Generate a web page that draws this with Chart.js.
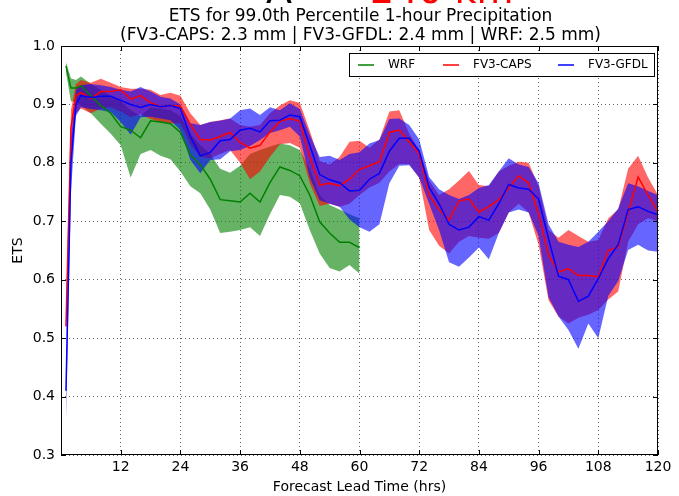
<!DOCTYPE html>
<html>
<head>
<meta charset="utf-8">
<title>ETS 99.0th Percentile 1-hour Precipitation</title>
<script src="https://cdn.jsdelivr.net/npm/chart.js@4.4.1/dist/chart.umd.min.js"></script>
<style>
  html, body { margin: 0; padding: 0; background: #fff; }
  canvas { display: block; }
</style>
</head>
<body>
<canvas id="etsChart" width="679" height="496"></canvas>
<script>
// forecast hours (FV3 runs go to 120 h, WRF stops at 60 h)
const hours = [1, 2, 3, 4, 6, 8, 10, 12, 14, 16, 18, 20, 22, 24, 26, 28, 30, 32, 34, 36, 38, 40,
  42, 44, 46, 48, 50, 52, 54, 56, 58, 60, 62, 64, 66, 68, 70, 72, 74, 76, 78, 80, 82, 84,
  86, 88, 90, 92, 94, 96, 98, 100, 102, 104, 106, 108, 110, 112, 114, 116, 118, 120];
const wrfHours = [1, 2, 3, 4, 6, 8, 10, 12, 14, 16, 18, 20, 22, 24, 26, 28, 30, 32, 34, 36, 38, 40,
  42, 44, 46, 48, 50, 52, 54, 56, 58, 60];

const capsMean = [0.52, 0.86, 0.915, 0.92, 0.91, 0.922, 0.922, 0.925, 0.909, 0.915, 0.903, 0.896, 0.898, 0.897,
  0.866, 0.84, 0.839, 0.845, 0.852, 0.835, 0.825, 0.83, 0.853, 0.871, 0.876, 0.871, 0.81, 0.762, 0.765, 0.761,
  0.772, 0.789, 0.795, 0.802, 0.852, 0.856, 0.836, 0.815, 0.745, 0.72, 0.702, 0.735, 0.738, 0.716, 0.725,
  0.737, 0.757, 0.778, 0.765, 0.713, 0.642, 0.613, 0.619, 0.607, 0.607, 0.605, 0.65, 0.656, 0.715, 0.776,
  0.745, 0.716];
const capsLow = [0.50, 0.82, 0.885, 0.893, 0.885, 0.893, 0.895, 0.888, 0.878, 0.883, 0.875, 0.87, 0.868, 0.868,
  0.832, 0.81, 0.808, 0.815, 0.822, 0.8, 0.772, 0.785, 0.81, 0.832, 0.834, 0.826, 0.765, 0.726, 0.73, 0.725,
  0.73, 0.745, 0.758, 0.766, 0.785, 0.798, 0.798, 0.774, 0.685, 0.658, 0.645, 0.665, 0.675, 0.672, 0.67,
  0.68, 0.715, 0.73, 0.715, 0.66, 0.565, 0.537, 0.525, 0.535, 0.54, 0.548, 0.566, 0.58, 0.665, 0.695,
  0.705, 0.70];
const capsHigh = [0.55, 0.89, 0.935, 0.942, 0.937, 0.944, 0.937, 0.93, 0.927, 0.927, 0.925, 0.916, 0.92, 0.915,
  0.885, 0.865, 0.87, 0.873, 0.876, 0.865, 0.862, 0.865, 0.885, 0.898, 0.907, 0.903, 0.855, 0.803, 0.797, 0.81,
  0.836, 0.838, 0.826, 0.84, 0.888, 0.89, 0.85, 0.822, 0.77, 0.745, 0.755, 0.77, 0.786, 0.762, 0.76,
  0.785, 0.795, 0.802, 0.8, 0.76, 0.685, 0.672, 0.685, 0.675, 0.665, 0.668, 0.705, 0.72, 0.79, 0.812,
  0.775, 0.745];

const gfdlMean = [0.41, 0.80, 0.90, 0.915, 0.912, 0.914, 0.914, 0.907, 0.90, 0.895, 0.90, 0.896, 0.898, 0.893,
  0.845, 0.812, 0.818, 0.838, 0.84, 0.856, 0.859, 0.853, 0.872, 0.873, 0.882, 0.879, 0.83, 0.78, 0.771, 0.766,
  0.752, 0.753, 0.772, 0.782, 0.82, 0.842, 0.842, 0.82, 0.758, 0.73, 0.695, 0.685, 0.69, 0.708, 0.702,
  0.73, 0.763, 0.757, 0.755, 0.738, 0.67, 0.606, 0.60, 0.563, 0.572, 0.602, 0.636, 0.66, 0.72, 0.725,
  0.717, 0.711];
const gfdlLow = [0.36, 0.75, 0.88, 0.895, 0.892, 0.89, 0.887, 0.87, 0.848, 0.878, 0.879, 0.876, 0.873, 0.856,
  0.805, 0.782, 0.805, 0.806, 0.82, 0.822, 0.829, 0.839, 0.851, 0.856, 0.862, 0.845, 0.775, 0.736, 0.73, 0.725,
  0.703, 0.69, 0.682, 0.695, 0.765, 0.795, 0.796, 0.775, 0.73, 0.685, 0.63, 0.622, 0.638, 0.655, 0.635,
  0.68, 0.715, 0.72, 0.715, 0.675, 0.57, 0.537, 0.514, 0.482, 0.525, 0.50, 0.572, 0.598, 0.651, 0.66,
  0.65, 0.648];
const gfdlHigh = [0.44, 0.84, 0.925, 0.933, 0.935, 0.933, 0.93, 0.925, 0.922, 0.93, 0.922, 0.913, 0.91, 0.90,
  0.868, 0.865, 0.87, 0.872, 0.876, 0.89, 0.893, 0.882, 0.895, 0.89, 0.902, 0.892, 0.848, 0.81, 0.812, 0.805,
  0.815, 0.818, 0.833, 0.839, 0.875, 0.876, 0.865, 0.84, 0.776, 0.755, 0.745, 0.738, 0.745, 0.757, 0.762,
  0.785, 0.808, 0.797, 0.793, 0.765, 0.695, 0.665, 0.66, 0.656, 0.665, 0.682, 0.70, 0.722, 0.765, 0.76,
  0.752, 0.745];

const wrfMean = [0.966, 0.928, 0.928, 0.932, 0.915, 0.898, 0.885, 0.862, 0.856, 0.843, 0.872, 0.87, 0.867, 0.852,
  0.814, 0.797, 0.772, 0.737, 0.735, 0.733, 0.748, 0.733, 0.766, 0.793, 0.787, 0.778, 0.745, 0.699, 0.68,
  0.664, 0.664, 0.655];
const wrfLow = [0.955, 0.905, 0.905, 0.898, 0.885, 0.867, 0.85, 0.83, 0.775, 0.815, 0.822, 0.812, 0.806, 0.785,
  0.76, 0.748, 0.72, 0.68, 0.682, 0.685, 0.69, 0.675, 0.712, 0.745, 0.742, 0.731, 0.685, 0.645, 0.62,
  0.614, 0.625, 0.61];
const wrfHigh = [0.972, 0.945, 0.942, 0.948, 0.935, 0.925, 0.915, 0.905, 0.89, 0.88, 0.895, 0.893, 0.89, 0.88,
  0.85, 0.83, 0.815, 0.79, 0.783, 0.795, 0.815, 0.822, 0.828, 0.833, 0.83, 0.822, 0.79, 0.745, 0.728,
  0.72, 0.712, 0.705];

const xTicks = [12, 24, 36, 48, 60, 72, 84, 96, 108, 120];
const yTicks = [0.3, 0.4, 0.5, 0.6, 0.7, 0.8, 0.9, 1.0];

const titleLines = ['ETS for 99.0th Percentile 1-hour Precipitation',
  '(FV3-CAPS: 2.3 mm | FV3-GFDL: 2.4 mm | WRF: 2.5 mm)'];
const legendItems = [
  { label: 'WRF', color: '#008000' },
  { label: 'FV3-CAPS', color: '#ff0000' },
  { label: 'FV3-GFDL', color: '#0000ff' }
];

const FONT = 'DejaVu Sans';
Chart.defaults.font.family = FONT;
Chart.defaults.color = '#000';

const pts = (xs, ys) => xs.map((x, i) => ({ x: x, y: ys[i] }));

// lower edge of a shaded band: invisible, only used as fill target
const bandEdge = (data, order) => ({
  data: data, order: order, fill: false, borderWidth: 0, borderColor: 'transparent',
  pointRadius: 0, pointHoverRadius: 0, tension: 0
});
const bandTop = (data, color, order) => ({
  data: data, order: order, fill: '-1', backgroundColor: color, borderWidth: 0,
  borderColor: 'transparent', pointRadius: 0, pointHoverRadius: 0, tension: 0
});
const meanLine = (label, data, color, order) => ({
  label: label, data: data, order: order, fill: false, borderColor: color, borderWidth: 1.5,
  pointRadius: 0, pointHoverRadius: 0, tension: 0
});

// titles, cut-off header, frame, inward ticks and the boxed legend
const decorations = {
  id: 'decorations',
  afterDraw(chart) {
    const { ctx, chartArea: a, scales: { x, y } } = chart;
    ctx.save();

    ctx.textBaseline = 'alphabetic';
    ctx.font = '38px "' + FONT + '"';
    ctx.textAlign = 'left';
    ctx.fillStyle = '#000';
    ctx.fillText('A', 266, 3);
    ctx.fillStyle = '#ff0000';
    ctx.fillText('240 km', 370, 3);

    ctx.fillStyle = '#000';
    ctx.font = '17px "' + FONT + '"';
    ctx.textAlign = 'center';
    const cx = (a.left + a.right) / 2 + 1;
    ctx.fillText(titleLines[0], cx, 21);
    ctx.fillText(titleLines[1], cx, 40);

    ctx.strokeStyle = '#000';
    ctx.lineWidth = 1;
    ctx.beginPath();
    xTicks.forEach(v => {
      const px = Math.round(x.getPixelForValue(v)) + 0.5;
      ctx.moveTo(px, a.bottom); ctx.lineTo(px, a.bottom - 5);
      ctx.moveTo(px, a.top); ctx.lineTo(px, a.top + 5);
    });
    yTicks.forEach(v => {
      const py = Math.round(y.getPixelForValue(v)) + 0.5;
      ctx.moveTo(a.left, py); ctx.lineTo(a.left + 5, py);
      ctx.moveTo(a.right, py); ctx.lineTo(a.right - 5, py);
    });
    ctx.stroke();
    ctx.strokeRect(Math.round(a.left) + 0.5, Math.round(a.top) + 0.5,
      Math.round(a.right - a.left) - 1, Math.round(a.bottom - a.top) - 1);

    // legend box in the upper right corner of the plot
    const bw = 305, bh = 23;
    const bx = Math.round(a.right) - 4 - bw, by = Math.round(a.top) + 7;
    ctx.fillStyle = '#fff';
    ctx.fillRect(bx, by, bw, bh);
    ctx.strokeRect(bx + 0.5, by + 0.5, bw, bh);
    const starts = [9, 94, 209];
    ctx.font = '12px "' + FONT + '"';
    ctx.textAlign = 'left';
    ctx.textBaseline = 'middle';
    legendItems.forEach((item, i) => {
      const lx = bx + starts[i], ly = by + bh / 2 + 0.5;
      ctx.strokeStyle = item.color;
      ctx.lineWidth = 1.5;
      ctx.beginPath();
      ctx.moveTo(lx, ly); ctx.lineTo(lx + 16, ly);
      ctx.stroke();
      ctx.fillStyle = '#000';
      ctx.fillText(item.label, lx + 30, ly);
    });
    ctx.restore();
  }
};

new Chart(document.getElementById('etsChart'), {
  type: 'line',
  data: {
    datasets: [
      bandEdge(pts(wrfHours, wrfLow), 9),
      bandTop(pts(wrfHours, wrfHigh), 'rgba(0,128,0,0.6)', 8),
      bandEdge(pts(hours, capsLow), 7),
      bandTop(pts(hours, capsHigh), 'rgba(255,0,0,0.6)', 6),
      bandEdge(pts(hours, gfdlLow), 5),
      bandTop(pts(hours, gfdlHigh), 'rgba(0,0,255,0.6)', 4),
      meanLine('WRF', pts(wrfHours, wrfMean), '#008000', 3),
      meanLine('FV3-CAPS', pts(hours, capsMean), '#ff0000', 2),
      meanLine('FV3-GFDL', pts(hours, gfdlMean), '#0000ff', 1)
    ]
  },
  options: {
    responsive: false,
    animation: false,
    devicePixelRatio: 1,
    layout: { padding: { top: 46, right: 21, left: 0, bottom: 0 } },
    plugins: { legend: { display: false }, tooltip: { enabled: false }, title: { display: false } },
    scales: {
      x: {
        type: 'linear',
        min: 0,
        max: 120,
        z: 1,
        afterFit: s => { s.height = 41; },
        grid: { color: 'rgba(0,0,0,0.6)', lineWidth: 1, drawTicks: false },
        border: { display: false, dash: [1, 3] },
        ticks: {
          stepSize: 12,
          padding: 4,
          maxRotation: 0,
          autoSkip: false,
          font: { size: 14 },
          callback: v => (v === 0 ? '' : v)
        },
        title: { display: true, text: 'Forecast Lead Time (hrs)', font: { size: 14 }, padding: { top: 0, bottom: 0 } }
      },
      y: {
        min: 0.3,
        max: 1.0,
        z: 1,
        afterFit: s => { s.width = 61; },
        grid: { color: 'rgba(0,0,0,0.6)', lineWidth: 1, drawTicks: false },
        border: { display: false, dash: [1, 3] },
        ticks: {
          stepSize: 0.1,
          padding: 6,
          font: { size: 14 },
          callback: v => Number(v).toFixed(1)
        },
        title: { display: true, text: 'ETS', font: { size: 14 }, padding: { top: 10, bottom: 0 } }
      }
    }
  },
  plugins: [decorations]
});
</script>
</body>
</html>
